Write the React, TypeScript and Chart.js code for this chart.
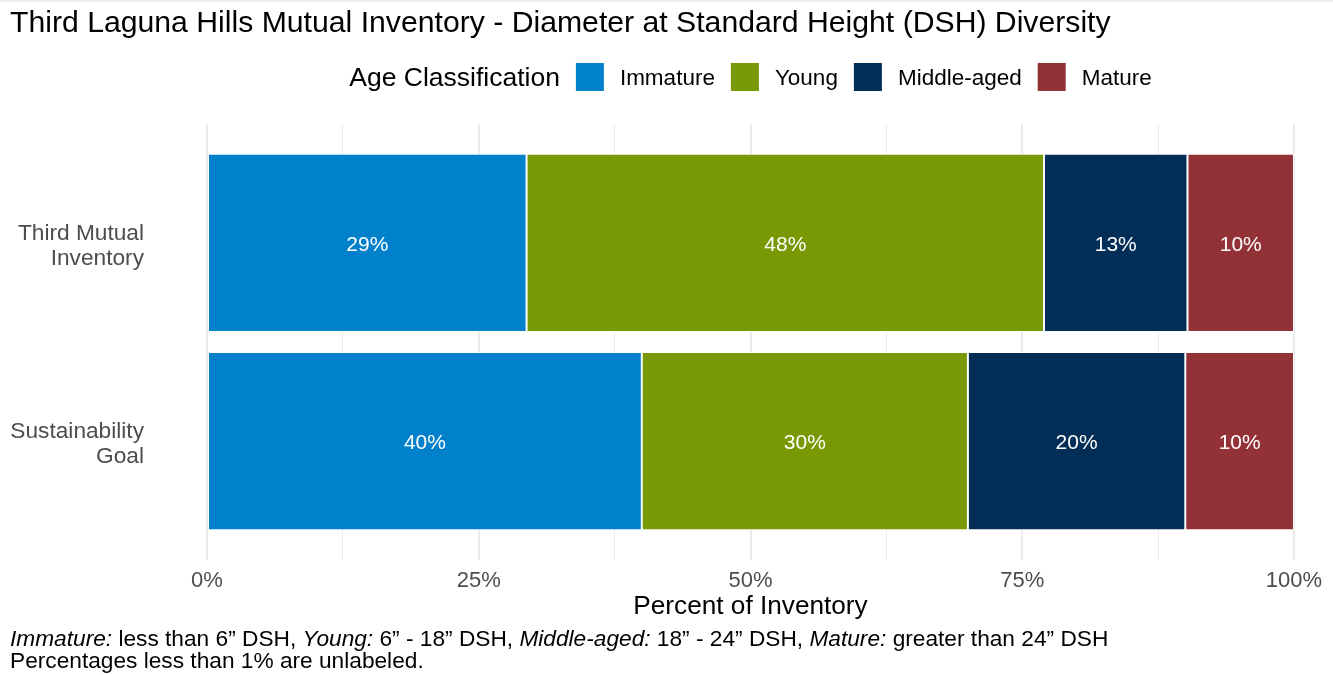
import React, { useEffect, useRef } from 'react';
import { Chart, registerables } from 'chart.js';
Chart.register(...registerables);

const FONT = '"Liberation Sans", Arial, Helvetica, sans-serif';

const titleText = 'Third Laguna Hills Mutual Inventory - Diameter at Standard Height (DSH) Diversity';
const legendTitle = 'Age Classification';
const xAxisTitle = 'Percent of Inventory';

const categories: string[][] = [['Third Mutual', 'Inventory'], ['Sustainability', 'Goal']];
const seriesNames = ['Immature', 'Young', 'Middle-aged', 'Mature'];
const seriesColors = ['#0180CB', '#789904', '#032E57', '#923236'];

const immature = [29.4, 40];
const young = [47.6, 30];
const middleAged = [13.2, 20];
const mature = [9.8, 10];

const xTickStep = 12.5;
const xLabelStep = 25;

const captionLine1: [string, boolean][] = [
  ['Immature:', true],
  [' less than 6\u201D DSH, ', false],
  ['Young:', true],
  [' 6\u201D - 18\u201D DSH, ', false],
  ['Middle-aged:', true],
  [' 18\u201D - 24\u201D DSH, ', false],
  ['Mature:', true],
  [' greater than 24\u201D DSH', false],
];
const captionLine2 = 'Percentages less than 1% are unlabeled.';

const overlayPlugin = {
  id: 'overlay',
  beforeDraw(chart: any) {
    const ctx = chart.ctx;
    ctx.save();
    ctx.fillStyle = '#EFEFEF';
    ctx.fillRect(0, 0, chart.width, 2);
    ctx.restore();
  },
  afterDatasetsDraw(chart: any) {
    const ctx = chart.ctx;
    ctx.save();
    ctx.fillStyle = '#ffffff';
    ctx.font = `21px ${FONT}`;
    ctx.textAlign = 'center';
    ctx.textBaseline = 'alphabetic';
    chart.data.datasets.forEach((ds: any, i: number) => {
      const meta = chart.getDatasetMeta(i);
      meta.data.forEach((el: any, j: number) => {
        const v = ds.data[j].x;
        if (v < 1) return;
        const p = el.getProps(['x', 'y', 'base'], true);
        ctx.fillText(Math.round(v) + '%', (p.x + p.base) / 2, p.y + 8);
      });
    });
    ctx.restore();
  },
  afterDraw(chart: any) {
    const ctx = chart.ctx;
    const area = chart.chartArea;
    ctx.save();
    ctx.textBaseline = 'alphabetic';
    ctx.textAlign = 'left';
    // Title
    ctx.fillStyle = '#000000';
    ctx.font = `30.2px ${FONT}`;
    ctx.fillText(titleText, 10, 32);

    // Legend
    const legendY = 77;
    const box = 28;
    const gap = 16;
    ctx.font = `26.5px ${FONT}`;
    const tW = ctx.measureText(legendTitle).width;
    ctx.font = `22.5px ${FONT}`;
    const labelWs = seriesNames.map((n) => ctx.measureText(n).width);
    let total = tW;
    labelWs.forEach((w) => { total += gap + box + gap + w; });
    let x = (area.left + area.right) / 2 - total / 2;
    ctx.font = `26.5px ${FONT}`;
    ctx.fillStyle = '#000000';
    ctx.fillText(legendTitle, x, legendY + 9);
    x += tW + gap;
    seriesNames.forEach((n, i) => {
      ctx.fillStyle = seriesColors[i];
      ctx.fillRect(x, legendY - box / 2, box, box);
      x += box + gap;
      ctx.fillStyle = '#000000';
      ctx.font = `22.5px ${FONT}`;
      ctx.fillText(n, x, legendY + 8);
      x += labelWs[i] + gap;
    });

    // X axis title
    ctx.font = `26.2px ${FONT}`;
    ctx.textAlign = 'center';
    ctx.fillStyle = '#000000';
    ctx.fillText(xAxisTitle, (area.left + area.right) / 2, 614);

    // Caption
    ctx.textAlign = 'left';
    let cx = 10;
    captionLine1.forEach(([t, it]) => {
      ctx.font = `${it ? 'italic ' : ''}22.7px ${FONT}`;
      ctx.fillText(t, cx, 646);
      cx += ctx.measureText(t).width;
    });
    ctx.font = `22.7px ${FONT}`;
    ctx.fillText(captionLine2, 10, 668);
    ctx.restore();
  },
};

export default function App() {
  const ref = useRef<HTMLCanvasElement | null>(null);
  useEffect(() => {
    if (!ref.current) return;
    const series = [immature, young, middleAged, mature];
    const chart = new Chart(ref.current, {
      type: 'bar',
      data: {
        datasets: series.map((vals, i) => ({
          label: seriesNames[i],
          data: vals.map((v, j) => ({ x: v, y: j })),
          backgroundColor: seriesColors[i],
          borderColor: '#ffffff',
          borderWidth: 1,
          borderSkipped: false,
          categoryPercentage: 1,
          barPercentage: 0.9,
        })),
      },
      options: {
        indexAxis: 'y',
        animation: false,
        responsive: true,
        maintainAspectRatio: false,
        layout: { padding: { top: 124, right: 39, left: 0, bottom: 0 } },
        plugins: { legend: { display: false }, tooltip: { enabled: false }, title: { display: false } },
        scales: {
          x: {
            type: 'linear',
            stacked: true,
            min: 0,
            max: 100,
            offset: false,
            afterFit: (s: any) => { s.height = 115; },
            border: { display: false },
            grid: {
              color: '#EBEBEB',
              lineWidth: (c: any) => (c.tick && c.tick.value % xLabelStep === 0 ? 2 : 1),
              drawTicks: false,
            },
            ticks: {
              stepSize: xTickStep,
              autoSkip: false,
              maxRotation: 0,
              padding: 8,
              color: '#4D4D4D',
              font: { family: FONT, size: 22 },
              callback: (v: any) => (Number(v) % xLabelStep === 0 ? `${v}%` : ''),
            },
          },
          y: {
            type: 'linear',
            stacked: true,
            reverse: true,
            offset: false,
            min: -0.6,
            max: 1.6,
            afterFit: (s: any) => { s.width = 207; },
            afterBuildTicks: (s: any) => { s.ticks = categories.map((_, i) => ({ value: i })); },
            border: { display: false },
            grid: { display: false, drawTicks: false },
            ticks: {
              padding: 63,
              labelOffset: 3,
              color: '#4D4D4D',
              font: { family: FONT, size: 22.7, lineHeight: 1.1 },
              callback: (v: any) => categories[Number(v)] as any,
            },
          },
        },
      },
      plugins: [overlayPlugin],
    } as any);
    return () => chart.destroy();
  }, []);
  return (
    <div style={{ position: 'absolute', left: 0, top: 0, width: 1333, height: 675, background: '#fff' }}>
      <canvas ref={ref} />
    </div>
  );
}
